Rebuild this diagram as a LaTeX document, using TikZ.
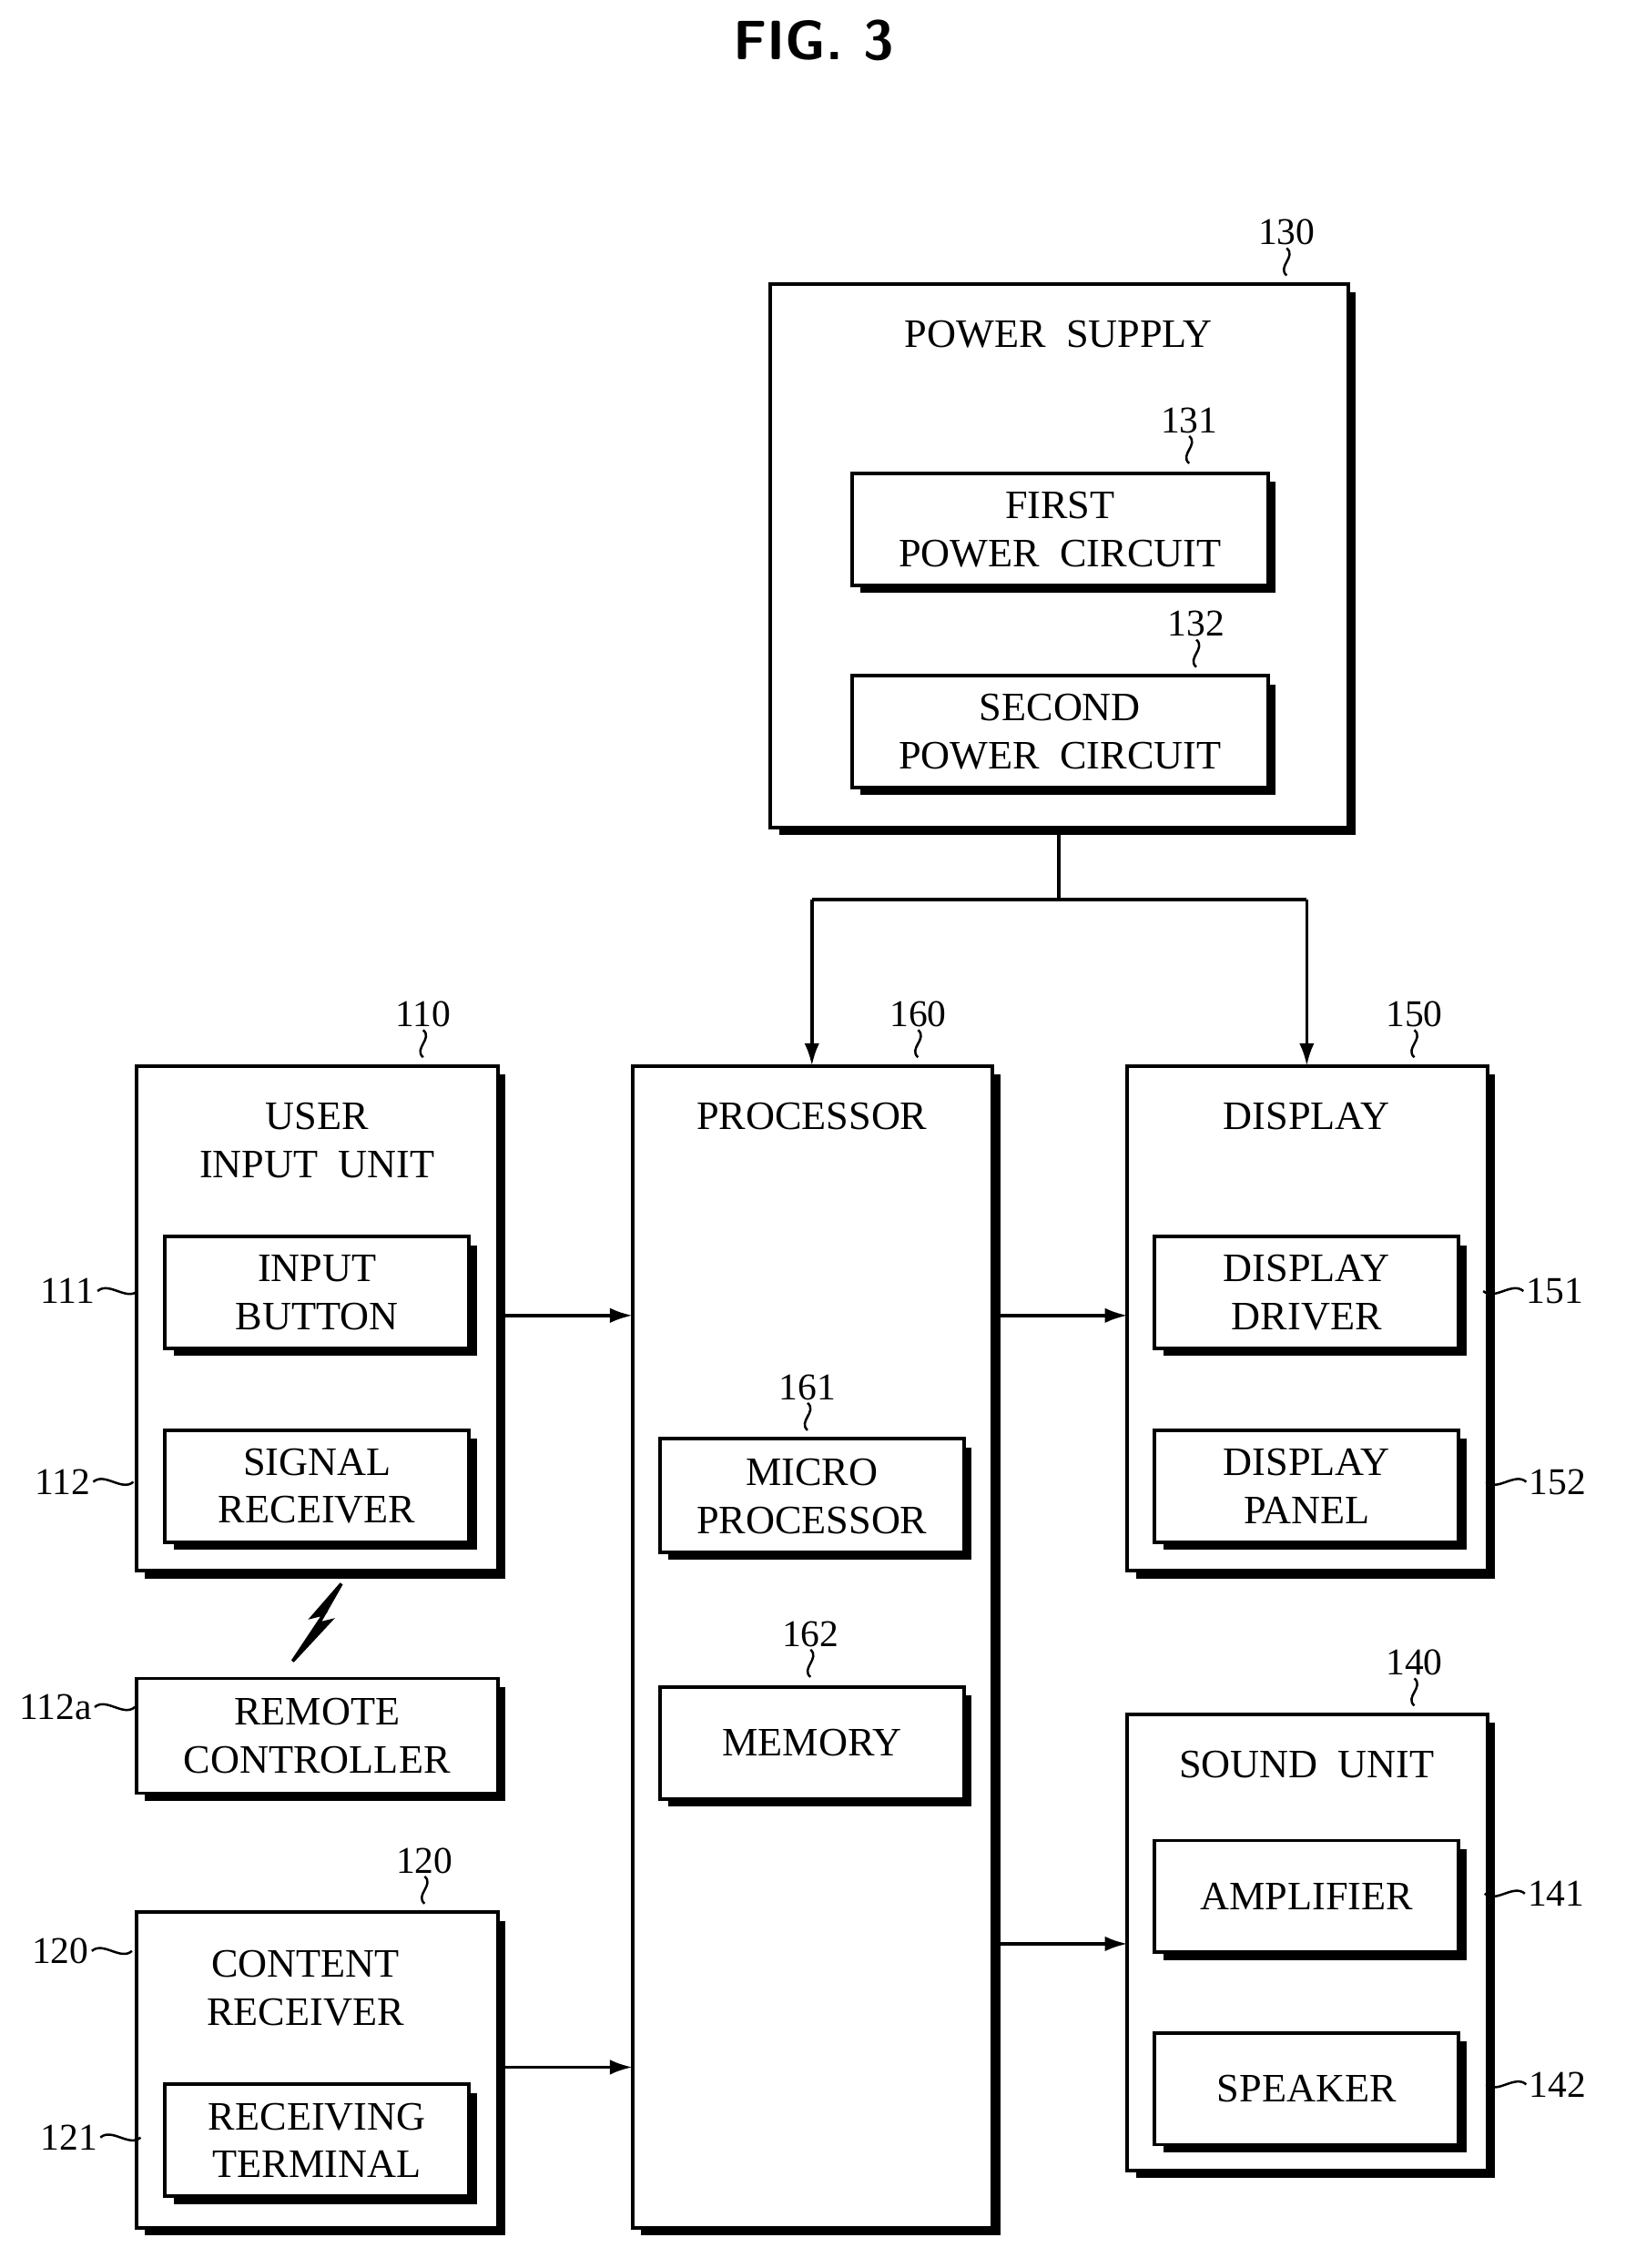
\documentclass[tikz,border=0pt]{standalone}
\usepackage{fontspec}
\setmainfont{Liberation Serif}
\usetikzlibrary{arrows.meta}
\begin{document}
\begin{tikzpicture}[x=0.02cm,y=-0.02cm,
  txt/.style={font=\fontsize{16}{19}\selectfont,align=center,inner sep=0pt},
  lab/.style={font=\fontsize{15}{18}\selectfont,inner sep=1pt},
  ln/.style={line width=1.3pt},
  arr/.style={line width=1.3pt,-{Latex[length=9pt,width=6pt]}}]
\useasboundingbox (0,0) rectangle (1133,1581);
\newcommand{\bx}[5]{%
  \draw[line width=1.4pt] (#2,#3) rectangle (#4,#5);
  \draw[line width=2.6pt] (#4+3,#3+6) -- (#4+3,#5+3) -- (#2+6,#5+3);
  \coordinate (#1) at ({(#2+#4)/2},{(#3+#5)/2});}
\newcommand{\vsq}[4]{% name, x, labely, boxtop
  \node[lab] (#1) at (#2,#3) {#4};
  \draw[line width=0.9pt] (#1.south) .. controls ++(7,6) and ++(-7,-6) .. (#1.south |- 0,{#3+30});}
\newcommand{\hsqL}[4]{% name, labelx, y, text ; squiggle to right
  \node[lab,anchor=east] (#1) at (#2,#3) {#4};
  \draw[line width=0.9pt] (#1.east) .. controls ++(8,-7) and ++(-8,7) .. ++(28,0);}
\newcommand{\hsqR}[4]{%
  \node[lab,anchor=west] (#1) at (#2,#3) {#4};
  \draw[line width=0.9pt] (#1.west) .. controls ++(-8,-7) and ++(8,7) .. ++(-28,0);}

\node[font=\sffamily\bfseries\fontsize{22}{26}\selectfont] (fig) at (567,28) {FIG. 3};

% power supply
\bx{ps}{537}{198}{940}{577}
\node[txt] (pst) at (738,233) {POWER\ \ SUPPLY};
\vsq{l130}{897}{162}{130}
\bx{fpc}{594}{330}{884}{408}
\node[txt] (fpct) at (739,369) {FIRST\\POWER\ \ CIRCUIT};
\vsq{l131}{829}{293}{131}
\bx{spc}{594}{471}{884}{549}
\node[txt] (spct) at (739,510) {SECOND\\POWER\ \ CIRCUIT};
\vsq{l132}{834}{435}{132}

% processor
\bx{pr}{441}{743}{692}{1553}
\node[txt] (prt) at (566,778) {PROCESSOR};
\vsq{l160}{640}{707}{160}
\bx{mp}{460}{1003}{672}{1082}
\node[txt] (mpt) at (566,1043) {MICRO\\PROCESSOR};
\vsq{l161}{563}{967}{161}
\bx{mem}{460}{1176}{672}{1254}
\node[txt] (memt) at (566,1215) {MEMORY};
\vsq{l162}{565}{1139}{162}

% user input
\bx{ui}{95}{743}{347}{1095}
\node[txt] (uit) at (221,795) {USER\\INPUT\ \ UNIT};
\vsq{l110}{295}{707}{110}
\bx{ib}{115}{862}{327}{940}
\node[txt] (ibt) at (221,901) {INPUT\\BUTTON};
\hsqL{l111}{68}{900}{111}
\bx{sr}{115}{997}{327}{1075}
\node[txt] (srt) at (221,1036) {SIGNAL\\RECEIVER};
\hsqL{l112}{65}{1033}{112}
\node[inner sep=0pt] (bolt) at (222,1130) {};
\draw[line width=1.3pt,fill=black] (204,1158) -- (226,1125) -- (218,1127) -- (238,1104) -- (222,1132) -- (230,1130) -- cycle;
\bx{rc}{95}{1170}{347}{1250}
\node[txt] (rct) at (221,1210) {REMOTE\\CONTROLLER};
\hsqL{l112a}{66}{1190}{112a}

% content receiver
\bx{cr}{95}{1333}{347}{1553}
\node[txt] (crt) at (213,1386) {CONTENT\\RECEIVER};
\vsq{l120t}{296}{1297}{120}
\hsqL{l120}{64}{1360}{120}
\bx{rt}{115}{1453}{327}{1531}
\node[txt] (rtt) at (221,1492) {RECEIVING\\TERMINAL};
\hsqL{l121}{70}{1490}{121}

% display
\bx{di}{786}{743}{1037}{1095}
\node[txt] (dit) at (911,778) {DISPLAY};
\vsq{l150}{986}{707}{150}
\bx{dd}{805}{862}{1017}{940}
\node[txt] (ddt) at (911,901) {DISPLAY\\DRIVER};
\hsqR{l151}{1062}{900}{151}
\bx{dp}{805}{997}{1017}{1075}
\node[txt] (dpt) at (911,1036) {DISPLAY\\PANEL};
\hsqR{l152}{1064}{1033}{152}

% sound
\bx{su}{786}{1195}{1037}{1513}
\node[txt] (sut) at (911,1230) {SOUND\ \ UNIT};
\vsq{l140}{986}{1159}{140}
\bx{amp}{805}{1283}{1017}{1361}
\node[txt] (ampt) at (911,1322) {AMPLIFIER};
\hsqR{l141}{1063}{1320}{141}
\bx{spk}{805}{1417}{1017}{1495}
\node[txt] (spkt) at (911,1456) {SPEAKER};
\hsqR{l142}{1064}{1453}{142}

% connectors
\coordinate (psb) at (738,577);
\coordinate (j) at (738,627);
\coordinate (jl) at (566,627);
\coordinate (jr) at (911,627);
\coordinate (prtop) at (566,743);
\coordinate (ditop) at (911,743);
\draw[ln] (psb) -- (j);
\draw[ln] (jl) -- (jr);
\draw[arr] (jl) -- (prtop);
\draw[arr] (jr) -- (ditop);
\coordinate (a1) at (347,917); \coordinate (a2) at (441,917);
\coordinate (b1) at (692,917); \coordinate (b2) at (786,917);
\coordinate (c1) at (692,1355); \coordinate (c2) at (786,1355);
\coordinate (d1) at (347,1441); \coordinate (d2) at (441,1441);
\draw[arr] (a1) -- (a2);
\draw[arr] (b1) -- (b2);
\draw[arr] (c1) -- (c2);
\draw[arr] (d1) -- (d2);
\end{tikzpicture}
\end{document}
